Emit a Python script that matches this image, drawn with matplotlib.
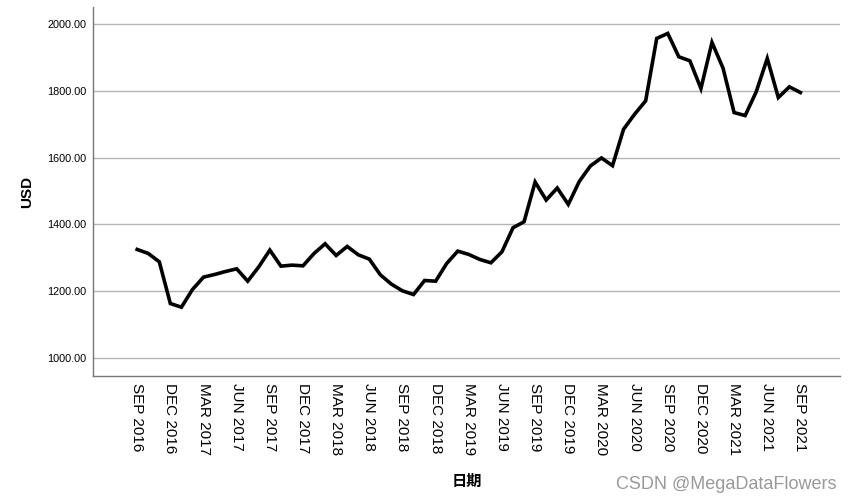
import numpy as np
import matplotlib.pyplot as plt

plt.rcParams['font.family'] = ['Liberation Sans', 'Noto Sans CJK SC', 'DejaVu Sans']

# monthly gold price, Sep 2016 .. Sep 2021
months = ['SEP', 'OCT', 'NOV', 'DEC', 'JAN', 'FEB', 'MAR', 'APR', 'MAY', 'JUN', 'JUL', 'AUG']
start_year = 2016
price = [1325, 1313, 1288, 1163, 1152, 1205, 1242, 1250, 1259, 1267, 1230, 1273,
         1323, 1275, 1278, 1276, 1313, 1342, 1307, 1334, 1309, 1296, 1249, 1221,
         1201, 1190, 1232, 1230, 1283, 1320, 1310, 1295, 1285, 1318, 1390, 1408,
         1527, 1473, 1509, 1460, 1529, 1575, 1599, 1576, 1685, 1730, 1770, 1957,
         1972, 1902, 1890, 1807, 1945, 1868, 1735, 1726, 1797, 1897, 1780, 1812,
         1795]

def month_label(i):
    m = months[i % 12]
    year = start_year + (i + 8) // 12
    return f'{m} {year}'

x = np.arange(len(price))
tick_pos = x[::3]
tick_labels = [month_label(i) for i in tick_pos]

fig = plt.figure(figsize=(8.53, 5.03), dpi=100)
ax = fig.add_axes([0.109, 0.2525, 0.876, 0.7335])

ax.plot(x, price, color='black', linewidth=2.6, solid_joinstyle='miter')

ax.set_xlim(-4, 63.6)
ax.set_ylim(946, 2051)
ax.set_yticks([1000, 1200, 1400, 1600, 1800, 2000])
ax.set_yticklabels([f'{v:.2f}' for v in [1000, 1200, 1400, 1600, 1800, 2000]], fontsize=7.8)
ax.set_xticks(tick_pos)
ax.set_xticklabels(tick_labels, rotation=270, fontsize=11)
ax.tick_params(axis='both', length=0, pad=5)

ax.grid(axis='y', color='#b4b4b4', linewidth=1)
ax.set_axisbelow(True)
for s in ['top', 'right']:
    ax.spines[s].set_visible(False)
for s in ['left', 'bottom']:
    ax.spines[s].set_color('#777777')
    ax.spines[s].set_linewidth(1)

ax.set_ylabel('USD', fontsize=11, fontweight='bold', labelpad=9)
ax.set_xlabel('日期', fontsize=11, fontweight='bold', labelpad=14)

fig.text(0.981, 0.037, 'CSDN @MegaDataFlowers', ha='right', va='center',
         fontsize=13, color='#999999')

fig.savefig('out.png', dpi=100)
